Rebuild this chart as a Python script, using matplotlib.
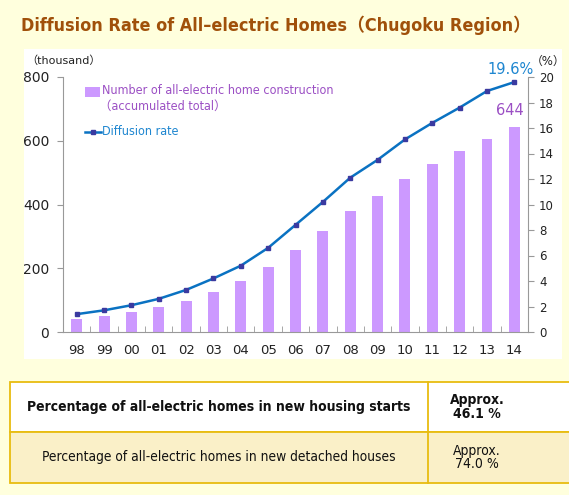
import matplotlib
matplotlib.use("Agg")
import matplotlib.pyplot as plt
from matplotlib.patches import Rectangle
from matplotlib.lines import Line2D
from matplotlib.ticker import FixedLocator

plt.rcParams['font.family'] = ['DejaVu Sans', 'Noto Sans CJK JP']

years = ["98", "99", "00", "01", "02", "03", "04", "05", "06", "07", "08",
         "09", "10", "11", "12", "13", "14"]
homes = [41, 50, 62, 77, 98, 126, 159, 203, 257, 318, 379, 426, 480, 526,
         567, 607, 644]
rate = [1.4, 1.7, 2.1, 2.6, 3.3, 4.2, 5.2, 6.6, 8.4, 10.2, 12.1, 13.5, 15.1,
        16.4, 17.6, 18.9, 19.6]
left_ticks = [0, 200, 400, 600, 800]
right_ticks = [0, 2, 4, 6, 8, 10, 12, 14, 16, 18, 20]
table_rows = ["Percentage of all-electric homes in new housing starts",
              "Percentage of all-electric homes in new detached houses"]
table_vals = ["Approx.\n46.1 %", "Approx.\n74.0 %"]

W, H = 569, 495
fig = plt.figure(figsize=(W / 100, H / 100), dpi=100)
fig.patch.set_facecolor("#FFFFDD")


def fx(x):
    return x / W


def fy(y):
    return 1 - y / H


# white chart panel
fig.patches.append(Rectangle((fx(24), fy(359)), fx(562) - fx(24), fy(49) - fy(359),
                             transform=fig.transFigure, facecolor="white",
                             edgecolor="none", zorder=-5))

# title
fig.text(fx(21), fy(25), "Diffusion Rate of All\u2013electric Homes\uff08Chugoku Region\uff09",
         color="#A0500A", fontsize=12.9, fontweight="bold", va="center", ha="left",
         fontstretch="condensed")

ax = fig.add_axes([fx(63), fy(332), fx(528) - fx(63), fy(77) - fy(332)])
ax.set_zorder(2)
ax.set_facecolor("none")
x = list(range(len(years)))
ax.bar(x, homes, width=0.4, color="#CC99FF", zorder=2)
ax.set_xlim(-0.5, len(years) - 0.5)
ax.set_ylim(0, 800)
ax.set_yticks(left_ticks)
ax.set_xticks(x)
ax.set_xticklabels(years)
ax.xaxis.set_minor_locator(FixedLocator([i + 0.5 for i in range(len(years) - 1)]))
ax.tick_params(axis="x", which="major", length=0, pad=9, labelsize=9.5, colors="#222222")
ax.tick_params(axis="x", which="minor", direction="in", length=4, color="#999999")
ax.tick_params(axis="y", length=4, color="#999999", labelsize=10, labelcolor="#222222", pad=6)
for s in ["top", "right"]:
    ax.spines[s].set_visible(False)
for s in ["left", "bottom"]:
    ax.spines[s].set_color("#999999")

ax2 = ax.twinx()
ax2.set_zorder(3)
ax2.set_facecolor("none")
ax2.plot(x, rate, color="#0A72C2", lw=1.8, marker="s", markersize=3,
         markerfacecolor="#3A3AA0", markeredgecolor="#3A3AA0", zorder=3)
ax2.set_ylim(0, 20)
ax2.set_yticks(right_ticks)
ax2.tick_params(axis="y", length=4, color="#999999", labelsize=8.5, labelcolor="#222222", pad=4)
for s in ["top", "left", "bottom"]:
    ax2.spines[s].set_visible(False)
ax2.spines["right"].set_color("#999999")

# annotations
ax.annotate(f"{homes[-1]}", (x[-1], homes[-1]), xytext=(-3, 6), textcoords="offset points",
            ha="center", va="bottom", color="#9B4FC4", fontsize=10.5)
ax2.annotate(f"{rate[-1]}%", (x[-1], rate[-1]), xytext=(-3, 4), textcoords="offset points",
             ha="center", va="bottom", color="#1E86D0", fontsize=10.5)

fig.text(fx(26), fy(61), "\uff08thousand\uff09", fontsize=8, color="#222222", va="center", ha="left")
fig.text(fx(531), fy(61), "\uff08%\uff09", fontsize=8.5, color="#222222", va="center", ha="left")

# legend (manual)
leg_kw = dict(fontsize=9, va="center", ha="left", fontstretch="condensed")
fig.patches.append(Rectangle((fx(85), fy(97)), fx(100) - fx(85), fy(87) - fy(97),
                             transform=fig.transFigure, facecolor="#CC99FF", edgecolor="none"))
fig.text(fx(102), fy(91), "Number of all-electric home construction", color="#9B4FC4", **leg_kw)
fig.text(fx(99), fy(106), "\uff08accumulated total\uff09", color="#9B4FC4", **leg_kw)
fig.lines.append(Line2D([fx(85), fx(101)], [fy(132), fy(132)], transform=fig.transFigure,
                        color="#0A72C2", lw=1.8, marker=None))
fig.lines.append(Line2D([fx(93)], [fy(132)], transform=fig.transFigure, marker="s",
                        markersize=3, color="#3A3AA0", lw=0))
fig.text(fx(102), fy(132), "Diffusion rate", color="#1E86D0", **leg_kw)

# table
row_y = [(382, 432), (432, 483)]
row_bg = ["white", "#FAF0C8"]
gold = "#E8BC10"
sizes = [10.0, 9.9]
for (y0, y1), bg, label, val, i in zip(row_y, row_bg, table_rows, table_vals, range(2)):
    fig.patches.append(Rectangle((fx(10), fy(y1)), fx(575) - fx(10), fy(y0) - fy(y1),
                                 transform=fig.transFigure, facecolor=bg,
                                 edgecolor=gold, lw=1.3))
    weight = "bold" if i == 0 else "normal"
    fig.text(fx(219), fy((y0 + y1) / 2), label, fontsize=sizes[i], fontweight=weight,
             color="#111111", ha="center", va="center", fontstretch="condensed")
    fig.text(fx(477), fy((y0 + y1) / 2), val, fontsize=10, fontweight=weight,
             color="#111111", ha="center", va="center", linespacing=0.95,
             fontstretch="condensed")
fig.lines.append(Line2D([fx(428), fx(428)], [fy(382), fy(483)], transform=fig.transFigure,
                        color=gold, lw=1.3))

fig.savefig("out.png", dpi=100, facecolor=fig.get_facecolor())
